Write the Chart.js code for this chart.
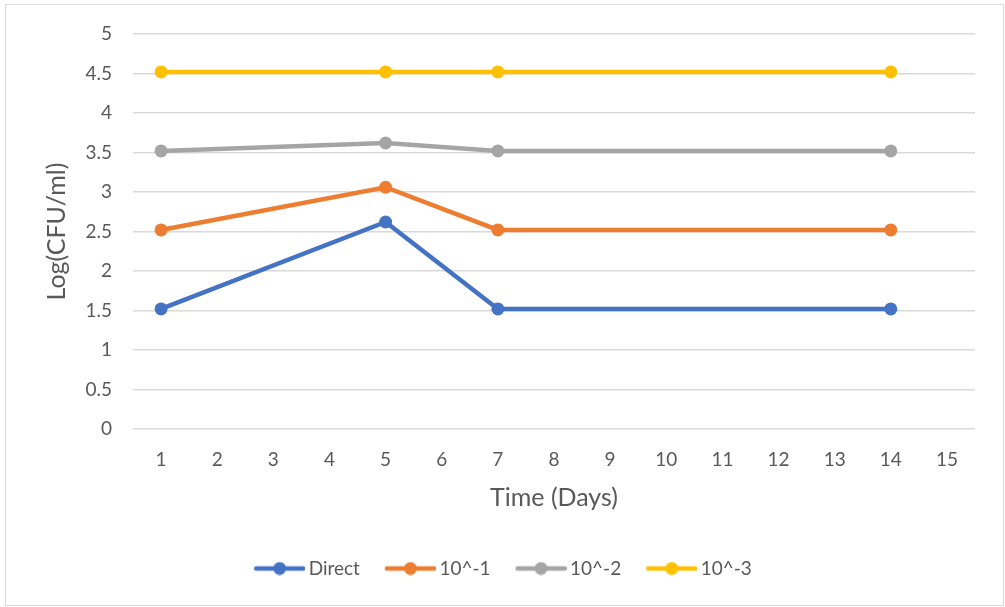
<!DOCTYPE html>
<html lang="en">
<head>
  <meta charset="UTF-8">
  <title>Log(CFU/ml) over time</title>
  <script src="https://cdn.jsdelivr.net/npm/chart.js"></script>
  <style>
    body { margin: 0; background: #fff; }
    .frame {
      position: absolute; left: 5px; top: 4px;
      width: 997px; height: 600px;
      border: 1px solid #d9d9d9;
    }
  </style>
</head>
<body>
  <div class="frame">
    <canvas id="myChart" width="997" height="600"></canvas>
  </div>

  <script>
    // data
    const days = [1, 5, 7, 14];
    const direct = [1.52, 2.62, 1.52, 1.52];
    const dil1 = [2.52, 3.06, 2.52, 2.52];
    const dil2 = [3.52, 3.62, 3.52, 3.52];
    const dil3 = [4.52, 4.52, 4.52, 4.52];
    const xTickLabels = [1, 2, 3, 4, 5, 6, 7, 8, 9, 10, 11, 12, 13, 14, 15];

    const font = 'Lato, "Open Sans", sans-serif';
    const textColor = '#595959';

    // legend marker: a short line with a dot in the middle,
    // shifted so the line ends just before the label text
    function legendMark(color) {
      const c = document.createElement('canvas');
      c.width = 56; c.height = 14;
      const g = c.getContext('2d');
      g.strokeStyle = color;
      g.lineWidth = 4.5;
      g.lineCap = 'round';
      g.beginPath(); g.moveTo(7, 7); g.lineTo(54, 7); g.stroke();
      g.fillStyle = color;
      g.beginPath(); g.arc(30.5, 7, 6.5, 0, Math.PI * 2); g.fill();
      return c;
    }

    function series(label, values, color) {
      return {
        label: label,
        data: days.map((d, i) => ({ x: d, y: values[i] })),
        borderColor: color,
        backgroundColor: color,
        borderWidth: 4.5,
        pointRadius: 6.5,
        pointHoverRadius: 6.5,
        pointBorderWidth: 0,
        pointStyle: 'circle',
        tension: 0,
        legendMark: legendMark(color)
      };
    }

    const ctx = document.getElementById('myChart').getContext('2d');
    const myChart = new Chart(ctx, {
      type: 'line',
      data: {
        datasets: [
          series('Direct', direct, '#4472C4'),
          series('10^-1', dil1, '#ED7D31'),
          series('10^-2', dil2, '#A5A5A5'),
          series('10^-3', dil3, '#FFC000')
        ]
      },
      options: {
        responsive: false,
        animation: false,
        layout: { padding: { left: 26, right: 28, top: 29, bottom: 17 } },
        plugins: {
          tooltip: { enabled: false },
          legend: {
            position: 'bottom',
            labels: {
              usePointStyle: true,
              pointStyleWidth: 44,
              padding: 26,
              color: textColor,
              font: { family: font, size: 19 },
              generateLabels(chart) {
                return chart.data.datasets.map((ds, i) => ({
                  text: ds.label,
                  pointStyle: ds.legendMark,
                  fontColor: textColor,
                  strokeStyle: ds.borderColor,
                  fillStyle: ds.backgroundColor,
                  lineWidth: 0,
                  datasetIndex: i
                }));
              }
            }
          }
        },
        scales: {
          x: {
            type: 'linear',
            min: 0.5,
            max: 15.5,
            afterBuildTicks(axis) {
              axis.ticks = xTickLabels.map(v => ({ value: v }));
            },
            afterFit(axis) { axis.height = 104; },
            grid: { display: false },
            border: { display: false },
            ticks: {
              color: textColor,
              font: { family: font, size: 19 },
              padding: 11,
              maxRotation: 0,
              autoSkip: false
            },
            title: {
              display: true,
              text: 'Time (Days)',
              color: textColor,
              font: { family: font, size: 25 },
              padding: { top: 8, bottom: 20 }
            }
          },
          y: {
            min: 0,
            max: 5,
            afterFit(axis) { axis.width = 101; },
            ticks: {
              stepSize: 0.5,
              color: textColor,
              font: { family: font, size: 19 },
              padding: 16,
              callback: v => String(v)
            },
            grid: {
              color: '#d9d9d9',
              lineWidth: 1.5,
              drawTicks: true,
              tickLength: 5,
              tickColor: 'rgba(0,0,0,0)'
            },
            border: { display: false },
            title: {
              display: true,
              text: 'Log(CFU/ml)',
              color: textColor,
              font: { family: font, size: 25 },
              padding: { top: 10, bottom: 10 }
            }
          }
        }
      }
    });
  </script>
</body>
</html>
